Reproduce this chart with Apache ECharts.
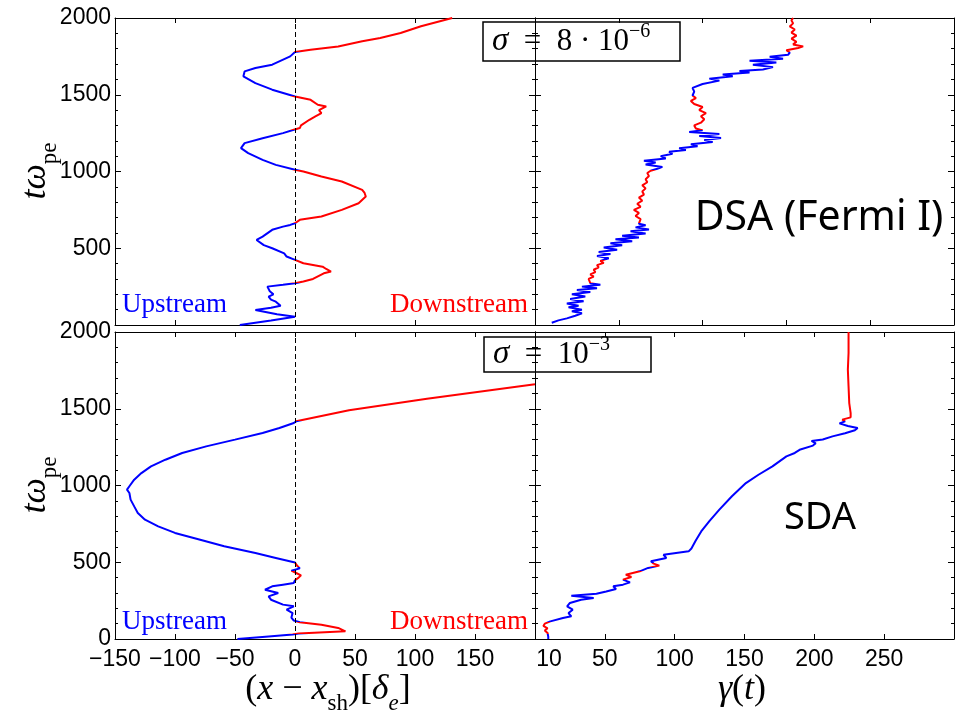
<!DOCTYPE html>
<html>
<head>
<meta charset="utf-8">
<title>DSA vs SDA trajectories</title>
<script src="https://cdn.jsdelivr.net/npm/echarts@6/dist/echarts.min.js"></script>
<style>
html, body { margin: 0; padding: 0; background: #fff; }
#chart { width: 957px; height: 712px; }
</style>
</head>
<body>
<div id="chart"></div>
<script>
// sigma = 8e-6 : position relative to shock [x - x_sh, t]
const posTop = [
  [-46,0],[-20,30],[0,54],[-15,70],[-33,98],[-20,112],[-12,125],[-16,152],[-20,165],[-22,185],
  [-18,200],[-21,220],[-23,250],[-10,262],[0,272],[7,283],[15,300],[24,337],[30,348],[26,365],
  [23,380],[7,402],[0,424],[-7,446],[-9,467],[-19,500],[-26,520],[-32,554],[-27,576],[-19,620],
  [-10,641],[-4,652],[0,663],[4,685],[22,707],[39,750],[53,793],[59,837],[58,860],[56,880],
  [39,935],[22,967],[7,1000],[0,1011],[-16,1043],[-27,1076],[-39,1120],[-45,1152],[-42,1185],
  [-27,1217],[-10,1250],[-1,1272],[4,1283],[5,1300],[12,1337],[17,1359],[22,1380],[20,1400],
  [26,1424],[19,1435],[13,1467],[0,1489],[-19,1533],[-33,1576],[-43,1620],[-42,1652],[-33,1674],
  [-19,1696],[-4,1750],[0,1778],[13,1793],[36,1815],[56,1848],[71,1870],[88,1902],[105,1946],[131,2000]
];
// sigma = 8e-6 : Lorentz factor [gamma, t]
const gamTop = [
  [10,15],[14,30],[19,43],[24,60],[28,76],[22,90],[28,100],[20,115],[26,125],[19,140],[29,155],
  [21,170],[30,185],[22,200],[33,215],[25,228],[37,240],[28,250],[39,262],[33,272],
  [34,285],[32,300],[35,315],[33,330],[36,345],[35,360],[38,375],[37,390],[41,405],[39,418],
  [38,424],[44,435],[37,450],[45,462],[38,476],[49,490],[41,505],[52,520],[45,533],[58,546],
  [48,558],[62,570],[52,582],[66,596],[57,610],[68,622],[60,636],[66,650],[62,660],
  [61,670],[63,690],[60,710],[62,730],[59,750],[63,770],[61,790],[64,810],[62,830],[65,850],
  [64,870],[66,890],[64,910],[67,930],[66,950],[68,970],[67,990],[69,1005],
  [73,1018],[76,1030],[66,1045],[72,1058],[65,1070],[78,1085],[75,1100],[82,1115],[80,1128],
  [90,1140],[86,1152],[97,1165],[93,1178],[106,1192],[101,1205],[111,1218],[98,1232],[110,1245],
  [92,1258],[100,1268],
  [96,1280],[95,1300],[99,1318],[101,1340],[99,1360],[102,1380],[98,1400],[100,1420],[95,1440],
  [93,1460],[96,1478],
  [94,1495],[95,1520],[94,1545],[100,1570],[110,1592],[104,1605],[118,1620],[112,1632],[128,1645],
  [122,1655],[136,1665],[142,1680],[130,1695],[144,1710],[128,1722],[148,1735],[140,1748],
  [151,1760],[152,1775],
  [150,1790],[157,1805],[160,1815],[154,1828],[156,1845],[153,1865],[156,1885],[153,1905],
  [155,1925],[152,1945],[154,1965],[153,1985],[154,2000]
];
// sigma = 1e-3 : position [x - x_sh, t]
const posBot = [
  [-48,0],[-22,17],[-2,30],[3,36],[42,50],[36,72],[22,93],[4,109],[-1,120],[-3,140],[-2,169],
  [-7,191],[-1,213],[-10,224],[-20,256],[-22,278],[-14,300],[-25,321],[-19,343],[-10,354],
  [-1,365],[0,383],[3,400],[5,415],[1,430],[-3,445],[4,460],[2,475],[0,498],[-16,528],[-33,560],
  [-59,604],[-79,647],[-100,691],[-114,734],[-125,777],[-131,821],[-134,864],[-137,908],
  [-138,951],[-140,973],[-138,995],[-134,1038],[-128,1081],[-120,1125],[-108,1168],[-94,1212],
  [-74,1255],[-50,1299],[-27,1342],[-13,1375],[-1,1407],[1,1418],[45,1490],[110,1565],[200,1660]
];
// sigma = 1e-3 : Lorentz factor [gamma, t]
const gamBot = [
  [9.5,0],[9.5,15],[10,28],[9,39],[7,55],[9,70],[6,85],[7,100],[11,115],[12,126],[20,137],
  [26,148],[24,169],[27,191],[23,213],[25,235],[33,256],[42,267],[26,282],[44,295],[51,310],
  [58,326],[56,343],[63,354],[68,369],[63,387],[69,404],[65,419],[70,430],[75,441],[81,463],
  [89,478],[85,491],[83,506],[94,528],[92,549],[101,560],[110,571],[112,590],[115,640],[119,701],
  [125,770],[132,843],[141,930],[151,1016],[160,1070],[170,1125],[180,1190],[186,1212],
  [190,1235],[199,1260],[201,1275],[198,1290],[206,1300],[213,1320],[222,1340],[229,1360],
  [231,1375],[224,1388],[218,1405],[222,1418],[220,1429],[226,1444],[226,1472],[225,1537],
  [224.5,1646],[224,1755],[224.5,1863],[224.5,2000]
];
// shock crossing times: upstream (blue) first, then alternating
const crossTop = [272, 424, 663, 1011, 1272, 1489, 1778];
const crossBot = [30, 112, 383, 440, 470, 498, 1418];

const gamBotLabels = [10, 50, 100, 150, 200, 250];
const posBotLabels = [-150, -100, -50, 0, 50, 100, 150];
const posTopTicks = [-100, 0, 100, 200];

const UP = '#0000ff', DOWN = '#ff0000', INK = '#000';
const SANS = 'Liberation Sans', SERIF = 'Liberation Serif';

function pieces(cross) {
  const out = [];
  const edges = [-1000].concat(cross, [5000]);
  for (let i = 0; i < edges.length - 1; i++) {
    out.push({ gte: edges[i], lt: edges[i + 1], color: i % 2 ? DOWN : UP });
  }
  return out;
}

const line = { show: true, onZero: false, lineStyle: { color: INK, width: 1 } };

function xAxes(gi, min, max, tick, label) {
  const base = {
    type: 'value', gridIndex: gi, min: min, max: max, interval: 50,
    axisLine: line, splitLine: { show: false },
    axisTick: Object.assign({ inside: true, length: 5, lineStyle: { color: INK } }, tick)
  };
  return [
    Object.assign({}, base, { position: 'bottom', axisLabel: label || { show: false } }),
    Object.assign({}, base, { position: 'top', axisLabel: { show: false } })
  ];
}

function yAxes(gi, label) {
  const base = {
    type: 'value', gridIndex: gi, min: 0, max: 2000, interval: 500,
    axisLine: line, splitLine: { show: false },
    axisTick: { inside: true, length: 6, lineStyle: { color: INK } },
    minorTick: { show: true, splitNumber: 5, length: 3, lineStyle: { color: INK } },
    minorSplitLine: { show: false }
  };
  return [
    Object.assign({}, base, { position: 'left', axisLabel: label || { show: false } }),
    Object.assign({}, base, { position: 'right', axisLabel: { show: false } })
  ];
}

const tickFont = { color: INK, fontFamily: SANS, fontSize: 23 };

const yLabel = (hideMin) => Object.assign({
  show: true, margin: 4, showMinLabel: !hideMin, showMaxLabel: true, formatter: v => String(v)
}, tickFont);

const option = {
  backgroundColor: '#fff',
  animation: false,
  grid: [
    { left: 115, top: 18, width: 420, height: 307 },
    { left: 535, top: 18, width: 419, height: 307 },
    { left: 115, top: 332, width: 420, height: 307 },
    { left: 535, top: 332, width: 419, height: 307 }
  ],
  xAxis: [].concat(
    xAxes(0, -150, 200, { customValues: posTopTicks }),
    xAxes(1, 0, 250, {}),
    xAxes(2, -150, 200, {}, Object.assign({
      show: true, margin: 9, customValues: posBotLabels, showMinLabel: true, hideOverlap: false,
      formatter: v => (v < 0 ? '−' : '') + Math.abs(v)
    }, tickFont)),
    xAxes(3, 0, 300, { customValues: [50, 100, 150, 200, 250] },
      Object.assign({ show: true, margin: 9, customValues: gamBotLabels }, tickFont))
  ),
  yAxis: [].concat(
    yAxes(0, yLabel(true)),
    yAxes(1),
    yAxes(2, yLabel(false)),
    yAxes(3)
  ),
  visualMap: [
    { show: false, type: 'piecewise', dimension: 1, seriesIndex: [0, 1], pieces: pieces(crossTop) },
    { show: false, type: 'piecewise', dimension: 1, seriesIndex: [2, 3], pieces: pieces(crossBot) }
  ],
  series: [],
  graphic: []
};

const shockLine = {
  silent: true, symbol: ['none', 'none'], label: { show: false },
  lineStyle: { color: INK, type: [5, 3], width: 1 },
  data: [{ xAxis: 0 }]
};

[[posTop, 0, true], [gamTop, 1, false], [posBot, 2, true], [gamBot, 3, false]].forEach(s => {
  option.series.push({
    type: 'line', data: s[0], xAxisIndex: s[1] * 2, yAxisIndex: s[1] * 2,
    showSymbol: false, symbol: 'none', lineStyle: { width: 2 },
    markLine: s[2] ? shockLine : undefined
  });
});

// text annotations
const mathRich = {
  n: { fontFamily: SERIF, fontSize: 36, lineHeight: 50, color: INK },
  i: { fontFamily: SERIF, fontStyle: 'italic', fontSize: 36, lineHeight: 50, color: INK },
  s: { fontFamily: SERIF, fontSize: 23, lineHeight: 50, verticalAlign: 'bottom', color: INK },
  si: { fontFamily: SERIF, fontStyle: 'italic', fontSize: 23, lineHeight: 50, verticalAlign: 'bottom', color: INK }
};
const boxRich = {
  n: { fontFamily: SERIF, fontSize: 31, lineHeight: 40, color: INK },
  i: { fontFamily: SERIF, fontStyle: 'italic', fontSize: 33, lineHeight: 40, color: INK },
  p: { fontFamily: SERIF, fontSize: 20, lineHeight: 40, verticalAlign: 'top', color: INK }
};

function txt(x, y, text, rich, extra) {
  return Object.assign({
    type: 'text', x: x, y: y, z: 10,
    style: { text: text, rich: rich, align: 'center', verticalAlign: 'middle' }
  }, extra || {});
}

[171, 485].forEach(cy => {
  option.graphic.push(txt(36, cy, '{i|tω}{s|pe}', mathRich, { rotation: Math.PI / 2 }));
});
option.graphic.push(txt(328, 690, '{n|(}{i|x}{n| − }{i|x}{s|sh}{n|)[}{i|δ}{si|e}{n|]}', mathRich));
option.graphic.push(txt(742, 690, '{i|γ}{n|(}{i|t}{n|)}', mathRich));

function sigmaBox(x, y, w, h, text) {
  option.graphic.push({ type: 'rect', z: 10, shape: { x: x, y: y, width: w, height: h },
    style: { fill: 'none', stroke: INK, lineWidth: 1.5 } });
  option.graphic.push({ type: 'text', z: 11, x: x + 9, y: y + h / 2,
    style: { text: text, rich: boxRich, align: 'left', verticalAlign: 'middle' } });
}
sigmaBox(483, 22, 197, 39, '{i|σ}{n|  =  8 · 10}{p|−6}');
sigmaBox(484, 337, 167, 35, '{i|σ}{n|  =  10}{p|−3}');

[[305, 'top'], [622, 'bot']].forEach(r => {
  option.graphic.push({ type: 'text', z: 10, x: 122, y: r[0],
    style: { text: 'Upstream', fill: UP, font: '27px "' + SERIF + '"', align: 'left', verticalAlign: 'middle' } });
  option.graphic.push({ type: 'text', z: 10, x: 528, y: r[0],
    style: { text: 'Downstream', fill: DOWN, font: '27px "' + SERIF + '"', align: 'right', verticalAlign: 'middle' } });
});

option.graphic.push({ type: 'text', z: 10, x: 819, y: 218,
  style: { text: 'DSA (Fermi I)', fill: INK, font: '41px "Noto Sans"', align: 'center', verticalAlign: 'middle' } });
option.graphic.push({ type: 'text', z: 10, x: 820, y: 518,
  style: { text: 'SDA', fill: INK, font: '38px "Noto Sans"', align: 'center', verticalAlign: 'middle' } });

const chart = echarts.init(document.getElementById('chart'));
chart.setOption(option);
window.addEventListener('resize', () => chart.resize());
</script>
</body>
</html>
